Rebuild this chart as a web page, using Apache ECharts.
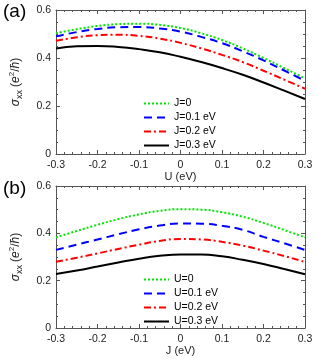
<!DOCTYPE html>
<html><head><meta charset="utf-8">
<script src="https://cdn.jsdelivr.net/npm/echarts@6/dist/echarts.min.js"></script>
<style>html,body{margin:0;padding:0;background:#fff}#c{width:319px;height:359px}</style>
</head><body><div id="c"></div>
<script>
// x positions (eV)
const xVals = [-0.3,-0.25,-0.2,-0.15,-0.1,-0.05,0,0.05,0.1,0.15,0.2,0.25,0.3];
// Panel (a): sigma_xx vs U
const aNames = ['J=0','J=0.1 eV','J=0.2 eV','J=0.3 eV'];
const aJ0  = [0.503,0.520,0.533,0.541,0.543,0.538,0.525,0.503,0.475,0.440,0.400,0.358,0.315];
const aJ01 = [0.490,0.508,0.521,0.528,0.529,0.523,0.510,0.488,0.462,0.428,0.390,0.348,0.305];
const aJ02 = [0.472,0.486,0.495,0.497,0.492,0.481,0.463,0.440,0.413,0.383,0.347,0.310,0.272];
const aJ03 = [0.440,0.449,0.450,0.446,0.437,0.424,0.405,0.383,0.358,0.330,0.298,0.264,0.229];
// Panel (b): sigma_xx vs J
const bNames = ['U=0','U=0.1 eV','U=0.2 eV','U=0.3 eV'];
const bU0  = [0.383,0.410,0.436,0.460,0.480,0.495,0.502,0.500,0.489,0.470,0.444,0.414,0.383];
const bU01 = [0.330,0.352,0.374,0.396,0.417,0.433,0.442,0.441,0.432,0.415,0.385,0.358,0.330];
const bU02 = [0.280,0.297,0.315,0.334,0.352,0.368,0.376,0.374,0.364,0.348,0.327,0.304,0.279];
const bU03 = [0.228,0.243,0.260,0.277,0.293,0.305,0.311,0.311,0.303,0.288,0.270,0.249,0.227];
const xTicks = [-0.3,-0.2,-0.1,0,0.1,0.2,0.3];
const yTicks = [0,0.2,0.4,0.6];

const FONT = 'Liberation Sans, Arial, sans-serif';
const colors = ['#00e600','#0000ff','#ff0000','#000000'];
const types = [[2,2],[8,5],[7,3,2,3],'solid'];
const pair = (ys) => xVals.map((x,i)=>[x,ys[i]]);

const grids = [
  {left:55, top:10, width:250, height:144},
  {left:55, top:186, width:250, height:142}
];
const axisLine = {show:true, onZero:false, lineStyle:{color:'#555', width:1}};
const xAxes = [], yAxes = [];
const axisNames = ['U (eV)','J (eV)'];
grids.forEach((g,gi)=>{
  const common = {type:'value', gridIndex:gi, min:-0.3, max:0.3, interval:0.1,
    axisLine, splitLine:{show:false},
    axisTick:{show:true, inside:true, length:4, lineStyle:{color:'#555'}},
    minorTick:{show:true, splitNumber:5, length:2, lineStyle:{color:'#555'}}};
  xAxes.push(Object.assign({}, common, {position:'bottom',
    name:axisNames[gi], nameLocation:'middle', nameGap:17,
    nameTextStyle:{fontFamily:FONT, fontSize:11, color:'#222'},
    axisLabel:{fontFamily:FONT, fontSize:10.5, color:'#222', margin:6,
      formatter:(v)=> xTicks.includes(Math.round(v*10)/10) ? (Math.abs(v)<1e-9?'0':String(Math.round(v*10)/10)) : ''}}));
  xAxes.push(Object.assign({}, common, {position:'top', axisLabel:{show:false}}));
  const ycommon = {type:'value', gridIndex:gi, min:0, max:0.6, interval:0.2,
    axisLine, splitLine:{show:false},
    axisTick:{show:true, inside:true, length:4, lineStyle:{color:'#555'}},
    minorTick:{show:true, splitNumber:4, length:2, lineStyle:{color:'#555'}}};
  yAxes.push(Object.assign({}, ycommon, {position:'left',
    name:'{g|σ}{s|xx} {n|(}{i|e}{p|2}{n|/}{i|ħ}{n|)}', nameLocation:'middle', nameGap:32, nameRotate:90,
    nameTextStyle:{fontFamily:FONT, fontSize:11, color:'#222',
      rich:{
        g:{fontFamily:FONT, fontSize:12, fontStyle:'italic', color:'#222', lineHeight:16, verticalAlign:'middle'},
        s:{fontFamily:FONT, fontSize:9, color:'#222', lineHeight:16, verticalAlign:'bottom'},
        n:{fontFamily:FONT, fontSize:12, color:'#222', lineHeight:16, verticalAlign:'middle'},
        i:{fontFamily:FONT, fontSize:12, fontStyle:'italic', color:'#222', lineHeight:16, verticalAlign:'middle'},
        p:{fontFamily:FONT, fontSize:8, color:'#222', lineHeight:16, verticalAlign:'top'}
      }},
    axisLabel:{fontFamily:FONT, fontSize:10.5, color:'#222', margin:5,
      formatter:(v)=> yTicks.some(t=>Math.abs(t-v)<1e-9) ? (v===0?'0':v.toFixed(1)) : ''}}));
  yAxes.push(Object.assign({}, ycommon, {position:'right', axisLabel:{show:false}}));
});

const series = [];
[[aJ0,aJ01,aJ02,aJ03],[bU0,bU01,bU02,bU03]].forEach((set,gi)=>{
  const names = gi===0?aNames:bNames;
  set.forEach((ys,k)=>{
    series.push({type:'line', name:names[k], xAxisIndex:gi*2, yAxisIndex:gi*2,
      data:pair(ys), smooth:true, symbol:'none', silent:true,
      lineStyle:{color:colors[k], width:2, type:types[k]}, itemStyle:{color:colors[k]}});
  });
});

const legendCommon = {orient:'vertical', itemWidth:25, itemHeight:10, itemGap:3, padding:0,
  itemStyle:{opacity:0},
  textStyle:{fontFamily:FONT, fontSize:10.5, color:'#000', lineHeight:10}, selectedMode:false};
const option = {
  animation:false,
  backgroundColor:'#fff',
  grid: grids,
  xAxis: xAxes,
  yAxis: yAxes,
  legend: [
    Object.assign({}, legendCommon, {left:143, top:98, data:aNames}),
    Object.assign({}, legendCommon, {left:143, top:274, data:bNames})
  ],
  graphic: [
    {type:'text', left:3, top:2, style:{text:'(a)', fontFamily:FONT, fontSize:19, fill:'#000'}},
    {type:'text', left:3, top:179, style:{text:'(b)', fontFamily:FONT, fontSize:19, fill:'#000'}}
  ],
  series
};
const chart = echarts.init(document.getElementById('c'), null, {renderer:'canvas'});
chart.setOption(option);
</script>
</body></html>
